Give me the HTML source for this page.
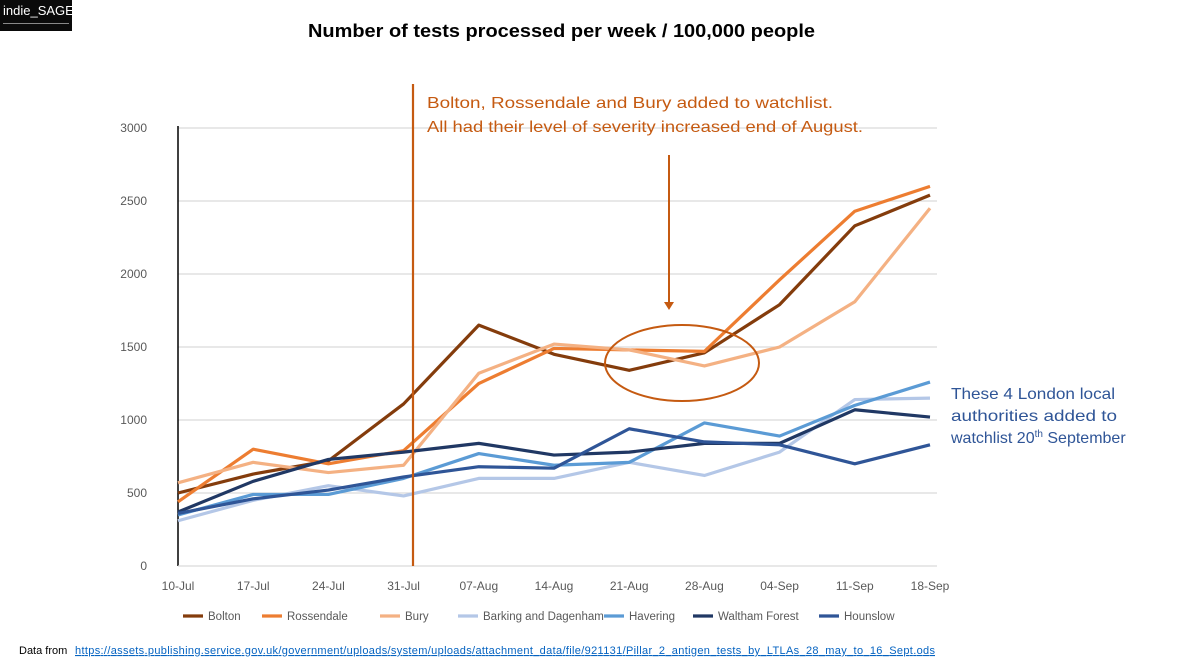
<!DOCTYPE html>
<html><head><meta charset="utf-8"><style>
body{margin:0;background:#fff;font-family:"Liberation Sans",Arial,sans-serif}
#wrap{position:relative;width:1200px;height:665px;overflow:hidden}
</style></head><body>
<div id="wrap">
<div style="position:absolute;left:0;top:0;width:72px;height:31px;background:#0a0a0a;color:#fff;font-size:13px;padding-left:3px;box-sizing:border-box;line-height:22px">indie_SAGE<div style="height:1px;background:#888;margin:1px 3px 0 0"></div></div>
<svg id="chart" width="1200" height="665" style="position:absolute;left:0;top:0"></svg>
</div>
<script>
const categories=["10-Jul","17-Jul","24-Jul","31-Jul","07-Aug","14-Aug","21-Aug","28-Aug","04-Sep","11-Sep","18-Sep"];
const yTicks=[0,500,1000,1500,2000,2500,3000];
const seriesNames=["Bolton","Rossendale","Bury","Barking and Dagenham","Havering","Waltham Forest","Hounslow"];
const bolton=[500,630,720,1110,1650,1450,1340,1460,1790,2330,2540];
const rossendale=[440,800,700,790,1250,1490,1480,1470,1960,2430,2600];
const bury=[570,710,640,690,1320,1520,1480,1370,1500,1810,2450];
const barking=[310,450,550,480,600,600,710,620,780,1140,1150];
const havering=[350,490,490,600,770,690,710,980,890,1100,1260];
const waltham=[370,580,730,780,840,760,780,840,840,1070,1020];
const hounslow=[360,460,520,610,680,670,940,850,830,700,830];
const colors=["#843c0c","#ed7d31","#f4b183","#b4c7e7","#5b9bd5","#203864","#2f5597"];
const allSeries=[bolton,rossendale,bury,barking,havering,waltham,hounslow];
const NS="http://www.w3.org/2000/svg";
const svg=document.getElementById('chart');
const X0=178,X1=930,Y0=566,Y1=128;
const x=i=>X0+i*(X1-X0)/(categories.length-1);
const y=v=>Y0-(v/3000)*(Y0-Y1);
function mk(t,a,txt){const e=document.createElementNS(NS,t);for(const k in a)e.setAttribute(k,a[k]);if(txt!=null)e.textContent=txt;svg.appendChild(e);return e;}
let e;
e=mk('text',{x:308,y:37,'font-size':18,'font-weight':'bold',fill:'#000',textLength:507,lengthAdjust:'spacingAndGlyphs'},'Number of tests processed per week / 100,000 people');


yTicks.forEach(v=>{
 if(v>0){e=mk('line',{x1:X0,x2:937,y1:y(v),y2:y(v),stroke:'#d9d9d9','stroke-width':1.3});
 
 }
 e=mk('text',{x:147,y:y(v)+4,'text-anchor':'end','font-size':12,fill:'#595959'},v);
 
 
});
e=mk('line',{x1:X0,x2:X0,y1:Y1-2,y2:Y0,stroke:'#000','stroke-width':1.5});


e=mk('line',{x1:X0,x2:937,y1:Y0,y2:Y0,stroke:'#d9d9d9','stroke-width':1.3});


categories.forEach((c,i)=>{
 e=mk('text',{x:x(i),y:590,'text-anchor':'middle','font-size':12,fill:'#595959'},c);
 
 
});
allSeries.forEach((s,k)=>{
 e=mk('polyline',{points:s.map((v,i)=>x(i)+','+y(v)).join(' '),fill:'none',stroke:colors[k],'stroke-width':3.2,'stroke-linejoin':'round'});
 
 
});
e=mk('line',{x1:413,x2:413,y1:84,y2:566,stroke:'#c55a11','stroke-width':2.2});


e=mk('text',{x:427,y:108,'font-size':16,fill:'#c55a11',textLength:406,lengthAdjust:'spacingAndGlyphs'},'Bolton, Rossendale and Bury added to watchlist.');


e=mk('text',{x:427,y:132,'font-size':16,fill:'#c55a11',textLength:436,lengthAdjust:'spacingAndGlyphs'},'All had their level of severity increased end of August.');


e=mk('line',{x1:669,x2:669,y1:155,y2:302,stroke:'#c55a11','stroke-width':2});


e=mk('polygon',{points:'664,302 674,302 669,310',fill:'#c55a11'});


e=mk('ellipse',{cx:682,cy:363,rx:77,ry:38,fill:'none',stroke:'#c55a11','stroke-width':2});


const lw=[164,166,0];
["These 4 London local","authorities added to","watchlist 20"].forEach((t,i)=>{
 const a={x:951,y:399+i*22,'font-size':16,fill:'#2f5597'};
 if(lw[i]){a.textLength=lw[i];a.lengthAdjust='spacingAndGlyphs';}
 e=mk('text',a,t);
 
 
 if(i==2){const ts=document.createElementNS(NS,'tspan');ts.setAttribute('font-size',10);ts.setAttribute('dy',-6);ts.textContent='th';e.appendChild(ts);
 const t2=document.createElementNS(NS,'tspan');t2.setAttribute('dy',6);t2.textContent=' September';e.appendChild(t2);}
});
const legX=[183,262,380,458,604,693,819];
seriesNames.forEach((n,k)=>{
 e=mk('line',{x1:legX[k],x2:legX[k]+20,y1:616,y2:616,stroke:colors[k],'stroke-width':3.2});
 
 
 e=mk('text',{x:legX[k]+25,y:620,'font-size':11.5,fill:'#595959'},n);
 
 
});
e=mk('text',{x:19,y:654,'font-size':11,fill:'#000'},'Data from ');


e=mk('text',{x:75,y:654,'font-size':11,fill:'#0563c1','text-decoration':'underline',textLength:860},'https://assets.publishing.service.gov.uk/government/uploads/system/uploads/attachment_data/file/921131/Pillar_2_antigen_tests_by_LTLAs_28_may_to_16_Sept.ods');


</script>
</body></html>
